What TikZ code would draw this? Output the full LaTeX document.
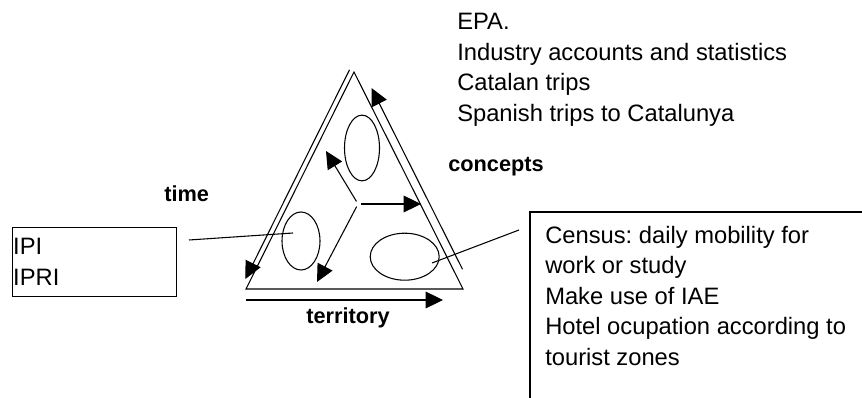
\documentclass[tikz,border=0pt]{standalone}
\usepackage{fontspec}
\setmainfont{Liberation Sans}
\frenchspacing
\usetikzlibrary{positioning,shapes.geometric,arrows.meta,calc}
\tikzset{txt/.style={inner sep=0pt, align=left, font=\fontsize{17.8}{22.9}\selectfont},
    dim/.style={inner sep=0pt, font=\fontsize{16.3}{19}\selectfont\bfseries},
    line/.style={line width=0.8pt},
    axis/.style={line width=0.8pt, -{Triangle[length=13pt,width=12.5pt]}},
    oval/.style={draw, ellipse, line width=0.8pt, inner sep=0pt}}

\begin{document}
\begin{tikzpicture}[x=0.75pt,y=-0.75pt]
    \useasboundingbox (0,0) rectangle (862,398);

    % triangle and its three axes
    \coordinate (l) at (246,289);
    \coordinate (r) at (463,289);
    \coordinate (t) at (354,72);
    \draw[line] (l) -- (r) -- (t) -- cycle;

    \coordinate (ta) at (349.5,69.8);
    \coordinate (tb) at (245.4,279);
    \coordinate (ra) at (462.5,269.3);
    \coordinate (rb) at (371.5,88);
    \coordinate (ba) at (246,300);
    \coordinate (bb) at (443,300);
    \draw[axis] (ta) -- (tb);
    \draw[axis] (ra) -- (rb);
    \draw[axis] (ba) -- (bb);

    \node[oval, minimum width=26.25pt, minimum height=49.3pt] (c) at (362,148) {};
    \node[oval, minimum width=28.5pt, minimum height=43.5pt]  (m) at (301,241) {};
    \node[oval, minimum width=51.75pt, minimum height=35.25pt] (z) at (404.7,256.7) {};

    % arrows from the middle
    \coordinate (h) at (358,204);
    \coordinate (hu) at (326,151);
    \coordinate (hr) at (421,204);
    \coordinate (hd) at (317,282);
    \draw[axis, shorten <=2.25pt] (h) -- (hu);
    \draw[axis, shorten <=2.25pt] (h) -- (hr);
    \draw[axis, shorten <=2.25pt] (h) -- (hd);

    % labels
    \node[dim, anchor=base west] (tl) at (164,202) {time};
    \node[dim, anchor=base west] (cl) at (448,172) {concepts};
    \node[dim, anchor=base west] (zl) at (306,324) {territory};

    \node[txt, anchor=north west] (epa) at (457,13) {EPA.\\Industry accounts and statistics\\Catalan trips\\Spanish trips to Catalunya};

    \node[txt, draw, line width=0.8pt, anchor=north west, inner xsep=0.5pt, text width=122pt, minimum height=51.75pt] (ipi) at (12,227) {IPI\\IPRI};

    \node[txt, anchor=north west, inner xsep=11.25pt, inner ysep=10.3pt] (cen) at (530,212) {Census: daily mobility for\\work or study\\Make use of IAE\\Hotel ocupation according to\\tourist zones};
    \draw[line] (cen.north west |- 0,398) -- (cen.north west) -- (cen.north west -| 862,0);

    \coordinate (ie) at (189,240);
    \coordinate (ce) at (519,230);
    \draw[line] (ie) -- ($(m.center)+(-8,-8)$);
    \draw[line] (ce) -- ($(z.center)+(27.3,6.3)$);
\end{tikzpicture}
\end{document}
